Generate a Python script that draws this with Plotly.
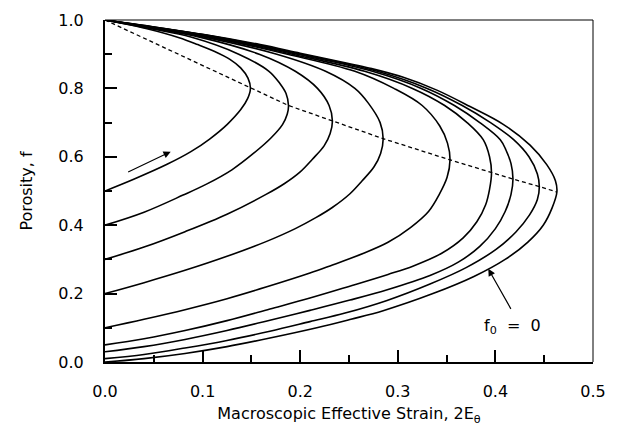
import plotly.graph_objects as go

# f0 labels of the curves
f0_values = [0.0, 0.01, 0.03, 0.05, 0.1, 0.2, 0.3, 0.4, 0.5]

# Each curve: lower branch from (0, f0) to the nose, then upper branch back to (0, 1)
x_f000 = [0, 0.04, 0.082, 0.125, 0.169, 0.217, 0.252, 0.285, 0.336, 0.378, 0.41, 0.433, 0.449, 0.458, 0.463,
          0.4615, 0.4526, 0.4355, 0.408, 0.374, 0.34, 0.3056, 0.2715, 0.246, 0.2, 0.159, 0.1, 0.05, 0]
f_f000 = [0, 0.01, 0.025, 0.045, 0.07, 0.1, 0.125, 0.15, 0.2, 0.25, 0.30, 0.35, 0.40, 0.45, 0.497,
          0.53, 0.577, 0.634, 0.695, 0.747, 0.795, 0.8325, 0.859, 0.875, 0.903, 0.928, 0.958, 0.979, 1.0]

x_f001 = [0, 0.04, 0.082, 0.125, 0.169, 0.21, 0.246, 0.289, 0.333, 0.37, 0.401, 0.421, 0.435, 0.443, 0.445,
          0.443, 0.4344, 0.4187, 0.395, 0.366, 0.33, 0.279, 0.201, 0.115, 0.059, 0]
f_f001 = [0.01, 0.022, 0.041, 0.063, 0.09, 0.118, 0.143, 0.18, 0.228, 0.276, 0.33, 0.38, 0.43, 0.475, 0.513,
          0.55, 0.60, 0.65, 0.70, 0.75, 0.80, 0.85, 0.90, 0.95, 0.976, 1.0]

x_f003 = [0, 0.04, 0.082, 0.125, 0.169, 0.21, 0.251, 0.29, 0.333, 0.362, 0.384, 0.40, 0.41, 0.416, 0.418,
          0.416, 0.4108, 0.405, 0.384, 0.358, 0.324, 0.274, 0.197, 0.113, 0.058, 0]
f_f003 = [0.03, 0.045, 0.066, 0.092, 0.122, 0.151, 0.181, 0.212, 0.253, 0.292, 0.338, 0.39, 0.44, 0.49, 0.535,
          0.58, 0.62, 0.65, 0.70, 0.75, 0.80, 0.85, 0.90, 0.95, 0.976, 1.0]

x_f005 = [0, 0.04, 0.082, 0.125, 0.169, 0.21, 0.25, 0.29, 0.316, 0.345, 0.367, 0.381, 0.39, 0.394, 0.396,
          0.394, 0.3875, 0.371, 0.348, 0.315, 0.266, 0.192, 0.11, 0.057, 0]
f_f005 = [0.05, 0.068, 0.092, 0.121, 0.155, 0.187, 0.221, 0.256, 0.281, 0.318, 0.363, 0.41, 0.46, 0.505, 0.553,
          0.60, 0.65, 0.70, 0.75, 0.80, 0.85, 0.90, 0.95, 0.975, 1.0]

x_f010 = [0, 0.04, 0.082, 0.125, 0.165, 0.21, 0.2305, 0.265, 0.29, 0.313, 0.3315, 0.3425, 0.3505, 0.3535,
          0.3509, 0.343, 0.325, 0.296, 0.256, 0.187, 0.107, 0.055, 0]
f_f010 = [0.1, 0.125, 0.153, 0.185, 0.219, 0.26, 0.281, 0.318, 0.35, 0.393, 0.44, 0.49, 0.54, 0.591,
          0.64, 0.69, 0.75, 0.80, 0.85, 0.90, 0.95, 0.975, 1.0]

x_f020 = [0, 0.04, 0.082, 0.125, 0.165, 0.195, 0.216, 0.2325, 0.251, 0.2635, 0.2755, 0.2824, 0.285,
          0.2819, 0.2698, 0.256, 0.226, 0.176, 0.102, 0.052, 0]
f_f020 = [0.2, 0.232, 0.268, 0.309, 0.352, 0.39, 0.422, 0.451, 0.492, 0.53, 0.57, 0.61, 0.653,
          0.70, 0.757, 0.80, 0.85, 0.90, 0.95, 0.975, 1.0]

x_f030 = [0, 0.04, 0.082, 0.125, 0.165, 0.184, 0.20, 0.2125, 0.2245, 0.2307, 0.233,
          0.2296, 0.2177, 0.195, 0.158, 0.097, 0.05, 0]
f_f030 = [0.3, 0.336, 0.381, 0.432, 0.49, 0.522, 0.556, 0.593, 0.632, 0.668, 0.705,
          0.75, 0.80, 0.85, 0.90, 0.95, 0.975, 1.0]

x_f040 = [0, 0.04, 0.08, 0.104, 0.13, 0.153, 0.170, 0.182, 0.18675, 0.188,
          0.1855, 0.179, 0.168, 0.137, 0.088, 0.046, 0]
f_f040 = [0.4, 0.438, 0.488, 0.52, 0.562, 0.612, 0.655, 0.695, 0.725, 0.75,
          0.785, 0.815, 0.85, 0.90, 0.95, 0.975, 1.0]

x_f050 = [0, 0.030, 0.0636, 0.088, 0.1072, 0.1253, 0.1391, 0.1461, 0.149,
          0.1465, 0.139, 0.128, 0.113, 0.095, 0.076, 0.042, 0]
f_f050 = [0.5, 0.535, 0.578, 0.615, 0.652, 0.695, 0.738, 0.77, 0.80,
          0.83, 0.86, 0.885, 0.907, 0.928, 0.948, 0.975, 1.0]

curves_x = [x_f000, x_f001, x_f003, x_f005, x_f010, x_f020, x_f030, x_f040, x_f050]
curves_f = [f_f000, f_f001, f_f003, f_f005, f_f010, f_f020, f_f030, f_f040, f_f050]

# dashed locus of the maximum strain points
x_max = [0, 0.149, 0.188, 0.233, 0.285, 0.3535, 0.396, 0.418, 0.445, 0.463]
f_max = [1.0, 0.80, 0.75, 0.705, 0.653, 0.591, 0.553, 0.535, 0.513, 0.497]

x_ticks = [0.0, 0.1, 0.2, 0.3, 0.4, 0.5]
y_ticks = [0.0, 0.2, 0.4, 0.6, 0.8, 1.0]

FONT = "DejaVu Sans"

fig = go.Figure()
for cx, cf, f0 in zip(curves_x, curves_f, f0_values):
    fig.add_trace(go.Scatter(x=cx, y=cf, mode="lines", name=f"f0={f0}",
                             line=dict(color="black", width=1.6, shape="spline", smoothing=1.0),
                             hoverinfo="skip", showlegend=False))

fig.add_trace(go.Scatter(x=x_max, y=f_max, mode="lines",
                         line=dict(color="black", width=1.3, dash="4px,3px"),
                         hoverinfo="skip", showlegend=False))

fig.add_annotation(x=0.3927, y=0.2725, ax=0.4167, ay=0.151, xref="x", yref="y", axref="x", ayref="y",
                   text="", showarrow=True, arrowhead=2, arrowsize=1.2, arrowwidth=1.2, arrowcolor="black")
fig.add_annotation(x=0.0673, y=0.6148, ax=0.0222, ay=0.5535, xref="x", yref="y", axref="x", ayref="y",
                   text="", showarrow=True, arrowhead=2, arrowsize=1.2, arrowwidth=1.2, arrowcolor="black")
fig.add_annotation(x=0.418, y=0.103, xref="x", yref="y", showarrow=False,
                   text="f<sub>0</sub>\u00a0 =\u00a0 0", font=dict(family=FONT, size=16, color="black"))

fig.update_layout(
    width=620, height=431,
    margin=dict(l=105, r=27, t=11, b=68),
    paper_bgcolor="white", plot_bgcolor="white",
    font=dict(family=FONT, size=16, color="black"),
    shapes=[
        dict(type="line", xref="paper", yref="paper", x0=0, x1=1, y0=1, y1=1, line=dict(color="black", width=1)),
        dict(type="line", xref="paper", yref="paper", x0=1, x1=1, y0=0, y1=1, line=dict(color="black", width=1)),
    ],
)
fig.update_xaxes(range=[0, 0.5], tickvals=x_ticks, ticktext=[f"{v:.1f}" for v in x_ticks],
                 ticks="inside", ticklen=12, tickwidth=1.5, tickcolor="black",
                 minor=dict(dtick=0.05, tick0=0, ticks="inside", ticklen=7, tickwidth=1.5, tickcolor="black"),
                 showline=True, linecolor="black", linewidth=2, showgrid=False, zeroline=False,
                 ticklabelstandoff=14,
                 title=dict(text="Macroscopic Effective Strain, 2E<sub>θ</sub>", standoff=8,
                            font=dict(family=FONT, size=16)))
fig.update_yaxes(range=[0, 1], tickvals=y_ticks, ticktext=[f"{v:.1f}" for v in y_ticks],
                 ticks="inside", ticklen=12, tickwidth=1.5, tickcolor="black",
                 minor=dict(dtick=0.1, tick0=0, ticks="inside", ticklen=7, tickwidth=1.5, tickcolor="black"),
                 showline=True, linecolor="black", linewidth=2, showgrid=False, zeroline=False,
                 ticklabelstandoff=16,
                 title=dict(text="Porosity, f", standoff=22, font=dict(family=FONT, size=16)))

fig.write_html("out.html")
